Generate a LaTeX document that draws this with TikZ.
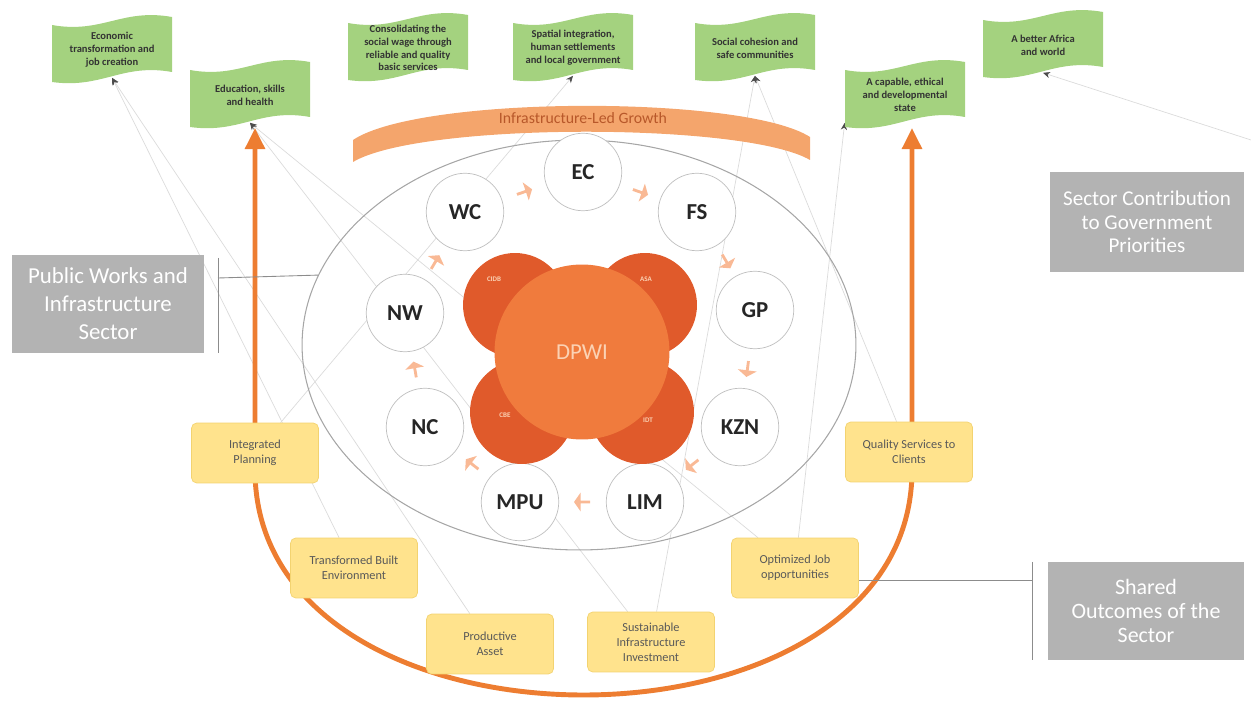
\documentclass[tikz,border=0pt]{standalone}
\usepackage{fontspec}
\setmainfont{Carlito}
\usetikzlibrary{arrows.meta, positioning, shapes.geometric, shapes.arrows}

\definecolor{arcorange}{HTML}{F4A56C}
\definecolor{arctext}{HTML}{B8582A}
\definecolor{mainorange}{HTML}{ED7D31}
\definecolor{dpwiorange}{HTML}{F07B3D}
\definecolor{entorange}{HTML}{E05A2B}
\definecolor{entext}{HTML}{FBD2B4}
\definecolor{chevorange}{HTML}{F9B995}
\definecolor{flaggreen}{HTML}{A4D27F}
\definecolor{outyellow}{HTML}{FFE38D}
\definecolor{outborder}{HTML}{F3D370}
\definecolor{secgray}{HTML}{B3B3B3}
\definecolor{ringgray}{HTML}{A6A6A6}

\pgfdeclarelayer{background}
\pgfsetlayers{background,main}

\newcommand{\flag}[4]{%
  \fill[flaggreen] (#2-60,#3-25) .. controls (#2-10,#3-16) and (#2+10,#3-42) .. (#2+60,#3-33)
    -- (#2+60,#3+22) .. controls (#2+10,#3+13) and (#2-10,#3+39) .. (#2-60,#3+32) -- cycle;
  \node[flagtext] (#1) at (#2,#3) {#4};}

\begin{document}
\begin{tikzpicture}[x=0.02cm, y=-0.02cm]
\tikzset{flagtext/.style={align=center, minimum width=2.4cm, minimum height=1.1cm, inner sep=0pt, font=\fontsize{6}{7.3}\selectfont\bfseries, text=black!80},
		outcome/.style={rectangle, rounded corners=3pt, fill=outyellow, draw=outborder, align=center, minimum width=2.54cm, minimum height=1.2cm, font=\fontsize{7}{8.5}\selectfont, text=black!65},
		prov/.style={circle, draw=black!25, fill=white, minimum size=1.55cm, inner sep=0pt, font=\fontsize{13}{13}\selectfont\bfseries, text=black!85},
		chev/.style={single arrow, fill=chevorange, minimum height=0.32cm, minimum width=0.38cm, single arrow head extend=0.04cm, single arrow tip angle=110, inner sep=0pt},
		entity/.style={circle, fill=entorange, minimum size=2.08cm, inner sep=0pt},
		entlabel/.style={font=\fontsize{4}{4}\selectfont\bfseries, text=entext, inner sep=0pt},
		sector/.style={rectangle, fill=secgray, align=center, text=white, inner sep=2pt},
		bracket/.style={draw=black!45, line width=0.5pt},
		link/.style={draw=black!14, line width=0.4pt, -{Stealth[length=4pt, width=3.5pt, color=black!70]}},
		uarrow/.style={draw=mainorange, line width=2.8pt, {Triangle[width=11pt, length=12pt]}-{Triangle[width=11pt, length=12pt]}}}
\useasboundingbox (0,0) rectangle (1251,705);

\coordinate (uL) at (255,128);
\coordinate (uR) at (912,128);
\draw[uarrow] (uL) -- (255,470) .. controls (255,770) and (912,770) .. (912,470) -- (uR);

\node[ellipse, draw=ringgray, line width=0.6pt, minimum width=11.08cm, minimum height=8.2cm] (ring) at (579,345) {};

\fill[arcorange] (353,140) .. controls (420,95) and (745,95) .. (810,137) -- (810,160) .. controls (745,122) and (420,122) .. (353,162) -- cycle;
\node[font=\fontsize{9}{9}\selectfont, text=arctext] (ilg) at (583,118) {Infrastructure-Led Growth};

\node[prov] (EC) at (583,172) {EC};
\node[prov] (FS) at (697,212) {FS};
\node[prov] (GP) at (755,310) {GP};
\node[prov] (KZN) at (740,427) {KZN};
\node[prov] (LIM) at (645,502) {LIM};
\node[prov] (MPU) at (520,502) {MPU};
\node[prov] (NC) at (425,427) {NC};
\node[prov] (NW) at (405,313) {NW};
\node[prov] (WC) at (465,212) {WC};
\foreach \a/\b in {EC/FS, FS/GP, GP/KZN, KZN/LIM, LIM/MPU, MPU/NC, NC/NW, NW/WC, WC/EC}
	\path (\a) -- (\b) node[chev, midway, sloped, allow upside down] {};

\node[entity] (cidb) at (515,305) {};
\node[entity] (asa) at (645,305) {};
\node[entity] (cbe) at (522,412) {};
\node[entity] (idt) at (642,412) {};
\node[circle, fill=dpwiorange, minimum size=3.5cm, font=\fontsize{13}{13}\selectfont, text=entext] (DPWI) at (582,352) {DPWI};
\node[entlabel] (cidbtxt) at (494,279) {CIDB};
\node[entlabel] (asatxt) at (646,279) {ASA};
\node[entlabel] (cbetxt) at (505,415) {CBE};
\node[entlabel] (idttxt) at (648,420) {IDT};

\node[outcome] (integ) at (255,453) {Integrated\\Planning};
\node[outcome] (transf) at (354,568) {Transformed Built\\Environment};
\node[outcome] (prod) at (490,644) {Productive\\Asset};
\node[outcome] (sustain) at (651,642) {Sustainable\\Infrastructure\\Investment};
\node[outcome] (optim) at (795,568) {Optimized Job\\opportunities};
\node[outcome] (quality) at (909,452) {Quality Services to\\Clients};

\flag{econ}{112}{50}{Economic\\transformation and\\job creation}
\flag{edu}{250}{95}{Education, skills\\and health}
\flag{wage}{408}{48}{Consolidating the\\social wage through\\reliable and quality\\basic services}
\flag{spatial}{573}{48}{Spatial integration,\\human settlements\\and local government}
\flag{social}{755}{48}{Social cohesion and\\safe communities}
\flag{state}{905}{95}{A capable, ethical\\and developmental\\state}
\flag{africa}{1043}{45}{A better Africa\\and world}

\node[sector, minimum width=3.86cm, minimum height=1.96cm, font=\fontsize{13}{16}\selectfont] (pwis) at (108,304) {Public Works and\\Infrastructure\\Sector};
\node[sector, minimum width=3.9cm, minimum height=2cm, font=\fontsize{12}{13.5}\selectfont] (contrib) at (1147,222) {Sector Contribution\\to Government\\Priorities};
\node[sector, minimum width=3.94cm, minimum height=1.96cm, font=\fontsize{12.5}{13.5}\selectfont] (shared) at (1146,611) {Shared\\Outcomes of the\\Sector};

\coordinate (brL) at (218,278);
\draw[bracket] (218,258) -- (218,353);
\draw[bracket] (brL) -- (ring.165);
\coordinate (brR) at (1032,580);
\draw[bracket] (1032,562) -- (1032,660);
\draw[bracket] (brR) -- (brR -| optim.east);

\coordinate (edgeR) at (1251,140);
\begin{pgfonlayer}{background}
\draw[link] (prod) -- (econ.south);
\draw[link] (transf) -- (econ.south);
\draw[link] (optim) -- (edu.south);
\draw[link] (sustain) -- (edu.south);
\draw[link] (integ) -- (spatial.south);
\draw[link] (sustain) -- (social.south);
\draw[link] (quality) -- (social.south);
\draw[link] (optim) -- (state.south west);
\draw[link] (edgeR) -- (africa.south);
\end{pgfonlayer}
\end{tikzpicture}
\end{document}
